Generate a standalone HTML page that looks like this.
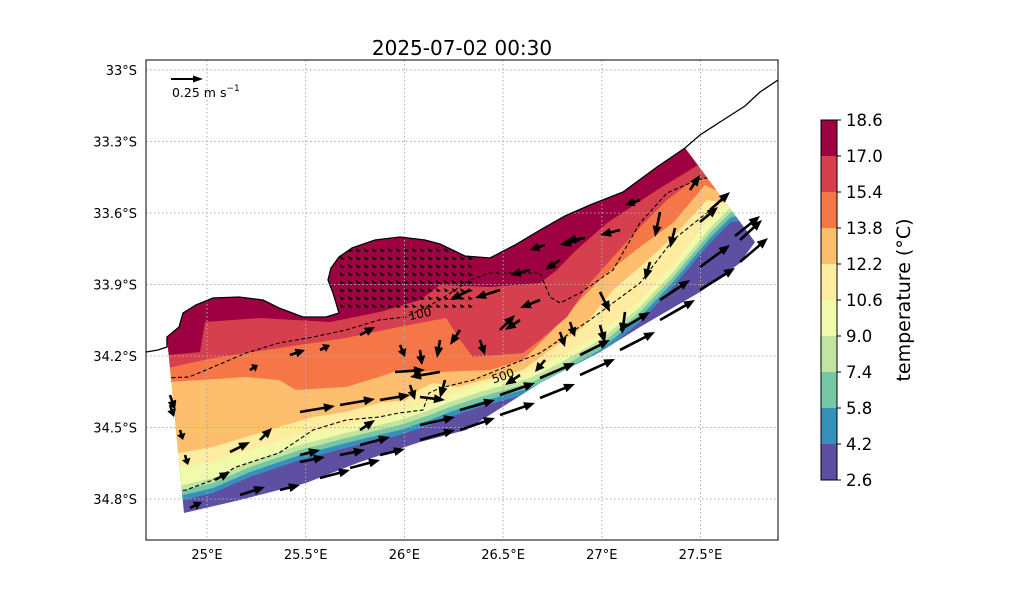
<!DOCTYPE html>
<html><head><meta charset="utf-8"><style>
html,body{margin:0;padding:0;background:#fff;}
svg text{font-family:"DejaVu Sans","Liberation Sans",sans-serif;}
</style></head><body>
<svg id="chart" width="1026" height="600" viewBox="0 0 1026 600" xmlns="http://www.w3.org/2000/svg">
<defs>
<clipPath id="dom"><path id="domPath" d=""/></clipPath>
<clipPath id="plot"><rect x="146" y="60" width="632" height="480"/></clipPath>
</defs>
<text x="462" y="55" font-size="20" text-anchor="middle" fill="#000">2025-07-02 00:30</text>
<g id="field" clip-path="url(#dom)"></g>
<g id="contours" clip-path="url(#dom)"></g>
<g id="grid"></g>
<g id="arrows" clip-path="url(#plot)"></g>
<path id="coast" fill="none" stroke="#000" stroke-width="1.3" clip-path="url(#plot)"/>
<rect x="146" y="60" width="632" height="480" fill="none" stroke="#000" stroke-width="1"/>
<g id="axes"></g>
<g>
<line x1="171" y1="79" x2="194" y2="79" stroke="#000" stroke-width="2"/>
<polygon points="203,79 193,75.5 193,82.5" fill="#000"/>
<text x="172" y="97" font-size="12.5" fill="#000">0.25 m s<tspan font-size="9" dy="-6">−1</tspan></text>
</g>
<g id="cbar"></g>
<text transform="translate(910,300) rotate(-90)" font-size="19" text-anchor="middle" fill="#000">temperature (°C)</text>
</svg>
<script>
const NS='http://www.w3.org/2000/svg';
// ---- data ----
const lonTicks=[25,25.5,26,26.5,27,27.5];
const lonLabels=['25°E','25.5°E','26°E','26.5°E','27°E','27.5°E'];
const latTicks=[33,33.3,33.6,33.9,34.2,34.5,34.8];
const latLabels=['33°S','33.3°S','33.6°S','33.9°S','34.2°S','34.5°S','34.8°S'];
const cbarTicks=[18.6,17.0,15.4,13.8,12.2,10.6,9.0,7.4,5.8,4.2,2.6];
const cbarColors=['#9e0142','#d6404e','#f57748','#fdbe6e','#feeda1','#f1f9aa','#c0e5a0','#75c7a5','#3790bb','#5e4fa2'];
// map geometry (pixel coordinates of digitised boundaries)
const coastPts=[[146,352],[158,350],[167,347],[167,337],[179,327],[183,313],[196,305],[213,298],[239,297],[263,300],[279,308],[303,317],[326,317],[339,313],[333,293],[328,280],[331,268],[339,257],[352,248],[375,240],[400,237],[425,240],[440,244],[465,256],[490,258],[515,245],[540,230],[565,216],[590,205],[623,192],[657,167],[685,148],[700,135],[720,122],[745,106],[760,92],[778,80]];
const domBottom=[[184,513],[240,500],[306,483],[360,462],[420,442],[466,430],[540,383],[600,352],[640,327],[700,292],[740,263],[755,242]];
const bands=[ // boundary at the bottom of each colour index c
 {c:0,pts:[[140,358],[200,352],[205,322],[260,318],[330,322],[380,312],[420,300],[440,285],[490,287],[540,283],[557,270],[573,253],[607,223],[657,190],[698,165],[760,150]]},
 {c:1,pts:[[140,374],[213,358],[286,347],[346,338],[399,327],[446,318],[460,340],[473,357],[523,353],[540,340],[567,317],[590,283],[613,257],[640,227],[667,200],[693,180],[710,178],[780,160]]},
 {c:2,pts:[[140,384],[246,377],[279,380],[296,390],[346,387],[379,377],[399,370],[440,372],[490,370],[523,360],[550,333],[580,300],[607,273],[640,247],[673,223],[705,185],[715,190],[790,170]]},
 {c:3,pts:[[140,455],[179,453],[213,447],[246,437],[279,427],[313,417],[346,412],[379,403],[406,400],[419,390],[433,383],[457,387],[523,370],[550,350],[583,327],[613,290],[640,267],[673,237],[707,200],[722,202],[790,180]]},
 {c:4,pts:[[140,470],[172,468],[213,462],[250,450],[300,435],[350,425],[400,412],[430,400],[450,395],[480,385],[530,372],[560,357],[600,335],[640,300],[673,265],[707,222],[727,203],[790,190]]}
];
const paleBottom=[[140,490],[175,487],[213,478],[250,462],[300,445],[350,432],[400,420],[430,410],[450,402],[480,392],[530,378],[560,363],[600,340],[640,307],[673,272],[710,228],[731,207],[790,200]];
const iso100=[[165,378],[189,377],[213,367],[246,353],[279,343],[313,337],[346,330],[379,320],[406,317],[440,300],[470,280],[490,273],[540,273],[550,297],[560,303],[580,293],[613,270],[640,223],[667,193],[697,180],[720,175]];
const iso500=[[170,492],[186,490],[213,480],[236,467],[279,453],[313,430],[346,420],[379,417],[399,413],[423,410],[429,393],[440,388],[473,380],[540,353],[590,320],[640,283],[673,240],[723,200],[760,185]];
// current vectors: x, y, u, v (pixel units)
const arrowX=[190,240,280,320,350,380,420,460,500,540,580,620,660,700,740, 300,340,360,420,460,500,540,580,620,660,700,735, 300,340,380,420,395,440, 170,180,250,290,320,360,400,420,440,460,480,500,520,540,470,500,530,560,580,620,640,660,675,690,650,600,570,560,230,215,260,300,360,410,445,520,545,600,625,545,585,700,710,740,170,185];
const arrowY=[508,495,490,478,468,455,440,430,415,398,375,350,320,290,262, 462,455,445,425,410,395,378,355,330,300,267,236, 412,405,400,397,372,372, 395,430,370,355,350,335,345,350,340,330,340,330,320,300,290,290,270,260,240,230,200,212,228,190,262,292,322,332,452,480,440,455,430,385,380,375,360,325,312,245,238,222,210,240,405,455];
const arrowU=[12,25,20,30,30,25,35,35,35,35,35,35,35,35,28, 25,25,30,35,35,35,35,30,30,30,30,25, 35,35,30,25,30,-30, 5,3,8,15,10,15,5,2,-3,-10,5,15,-15,-20,-20,-25,-20,-15,-20,-20,-15,-5,-5,10,-5,10,5,5,20,15,12,20,15,5,-5,-15,-10,5,-3,-15,-20,18,20,22,4,3];
const arrowV=[-6,-8,-5,-8,-8,-6,-10,-12,-12,-14,-16,-18,-20,-22,-24, -5,-5,-8,-8,-10,-12,-15,-15,-18,-20,-22,-20, -6,-6,-5,3,-2,5, 15,10,-5,-5,-5,-8,12,15,18,15,15,-15,10,8,10,8,5,10,5,5,5,25,20,-15,18,20,15,15,-10,-8,-12,-5,-10,15,18,10,12,18,22,5,3,-15,-18,-20,12,10];

// ---- helpers ----
function ptsStr(a){return a.map(p=>p[0]+','+p[1]).join(' ');}
function lonX(l){return 207+(l-25)*197.4;}
function latY(l){return 70+(l-33)*238.3;}
function add(parent,tag,attrs){const e=document.createElementNS(NS,tag);for(const k in attrs)e.setAttribute(k,attrs[k]);parent.appendChild(e);return e;}

// domain
const coastInDom=coastPts.slice(3,32);
const domPts=domBottom.concat([[685,148]]).concat(coastInDom.slice().reverse());
document.getElementById('domPath').setAttribute('d','M'+domPts.map(p=>p.join(',')).join(' L')+' Z');
document.getElementById('coast').setAttribute('d','M'+coastPts.map(p=>p.join(',')).join(' L'));

const field=document.getElementById('field');
const bg=add(field,'rect',{x:140,y:60,width:650,height:480,fill:cbarColors[9]});


function offsetLine(a,d){return a.map(p=>[p[0],p[1]+d]);}
const cold=[{c:8,pts:offsetLine(paleBottom,15)},{c:7,pts:offsetLine(paleBottom,10)},{c:6,pts:offsetLine(paleBottom,5)},{c:5,pts:paleBottom}];
const allBands=cold.concat(bands.slice().reverse());
allBands.forEach(b=>{
  const poly=b.pts.concat([[800,40],[130,40]]);
  const e=add(field,'polygon',{points:ptsStr(poly),fill:cbarColors[b.c]});
  
  
});
// bay small arrows
for(let x=340;x<=470;x+=8){for(let y=248;y<=305;y+=8){
  const d=add(field,'polygon',{points:`${x},${y} ${x+5},${y+3} ${x+1},${y+4}`,fill:'#000'});
  
  
}}

const cont=document.getElementById('contours');
[[iso100,'isobath-100'],[iso500,'isobath-500']].forEach(([a,n])=>{
  const e=add(cont,'polyline',{points:ptsStr(a),fill:'none',stroke:'#000','stroke-width':1.1,'stroke-dasharray':'4,2.5'});
  
  
});
const l1=add(cont,'text',{x:420,y:318,'font-size':12,'text-anchor':'middle',fill:'#000',transform:'rotate(-12 420 314)'});l1.textContent='100';


const l2=add(cont,'text',{x:503,y:380,'font-size':12,'text-anchor':'middle',fill:'#000',transform:'rotate(-20 503 376)'});l2.textContent='500';



// grid + axes
const grid=document.getElementById('grid'),axes=document.getElementById('axes');
lonTicks.forEach((l,i)=>{const x=lonX(l);
  const g=add(grid,'line',{x1:x,y1:60,x2:x,y2:540,stroke:'#aaa','stroke-width':1,'stroke-dasharray':'1.5,2.5'});
  
  
  const t=add(axes,'text',{x:x,y:559,'font-size':13,'text-anchor':'middle',fill:'#000'});t.textContent=lonLabels[i];
  
  
});
latTicks.forEach((l,i)=>{const y=latY(l);
  const g=add(grid,'line',{x1:146,y1:y,x2:778,y2:y,stroke:'#aaa','stroke-width':1,'stroke-dasharray':'1.5,2.5'});
  
  
  const t=add(axes,'text',{x:137,y:y+5,'font-size':13,'text-anchor':'end',fill:'#000'});t.textContent=latLabels[i];
  
  
});

// arrows
const ar=document.getElementById('arrows');
for(let i=0;i<arrowX.length;i++){
  const x=arrowX[i],y=arrowY[i],u=arrowU[i],v=arrowV[i];
  const L=Math.hypot(u,v);if(L<1)continue;
  const ux=u/L,uy=v/L,px=-uy,py=ux;
  const hl=Math.min(11,L*0.6),hw=4.5,sw=1.3;
  const bx=x+u-ux*hl,by=y+v-uy*hl;
  const pts=[[x+px*sw,y+py*sw],[bx+px*sw,by+py*sw],[bx+px*hw,by+py*hw],[x+u,y+v],[bx-px*hw,by-py*hw],[bx-px*sw,by-py*sw],[x-px*sw,y-py*sw]];
  const e=add(ar,'polygon',{points:ptsStr(pts.map(p=>[p[0].toFixed(1),p[1].toFixed(1)])),fill:'#000'});
  
  
}

// colorbar
const cb=document.getElementById('cbar');
const cbTop=120,cbH=360,nb=cbarColors.length;
cbarColors.forEach((c,i)=>{
  const r=add(cb,'rect',{x:821,y:cbTop+i*cbH/nb,width:16,height:cbH/nb+0.5,fill:c});
  
  
});
add(cb,'rect',{x:821,y:cbTop,width:16,height:cbH,fill:'none',stroke:'#000','stroke-width':1});
cbarTicks.forEach((t,i)=>{const y=cbTop+i*cbH/(cbarTicks.length-1);
  add(cb,'line',{x1:837,y1:y,x2:841,y2:y,stroke:'#000'});
  const e=add(cb,'text',{x:846,y:y+6,'font-size':16.5,fill:'#000'});e.textContent=t.toFixed(1);
  
  
});
</script>
</body></html>
